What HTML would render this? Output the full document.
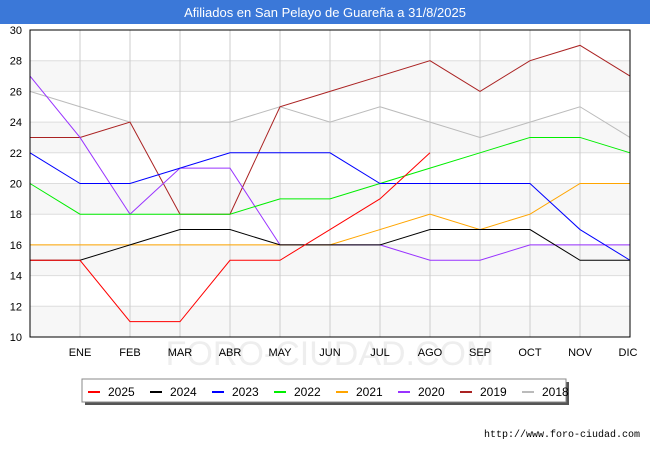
<!DOCTYPE html>
<html><head><meta charset="utf-8"><style>
body{margin:0;width:650px;height:450px;background:#fff;font-family:"Liberation Sans","DejaVu Sans",sans-serif;overflow:hidden}
</style></head><body>
<svg width="650" height="450" xmlns="http://www.w3.org/2000/svg">
<rect x="0" y="0" width="650" height="24" fill="#3b78d8"/>
<text x="325" y="17" text-anchor="middle" font-size="13" fill="#fff" font-family="Liberation Sans, sans-serif">Afiliados en San Pelayo de Guareña a 31/8/2025</text>
<g id="bands"></g><g id="grid"></g>
<text x="330" y="365" text-anchor="middle" font-size="34" fill="#eee" font-family="Liberation Sans, sans-serif">FORO-CIUDAD.COM</text>
<g id="series"></g>
<rect x="30" y="30" width="600" height="307" fill="none" stroke="#000" stroke-width="1"/>
<g id="axes" font-size="11" font-family="Liberation Sans, sans-serif"></g>
<rect x="85" y="382" width="484" height="23" fill="#555"/>
<rect x="82" y="379" width="484" height="23" fill="#fff" stroke="#888"/>
<g id="legend" font-size="12" font-family="Liberation Sans, sans-serif"></g>
<text x="640" y="437" text-anchor="end" font-size="10" fill="#000" font-family="Liberation Mono, monospace">http://www.foro-ciudad.com</text>
</svg>
<script>
const months=["","ENE","FEB","MAR","ABR","MAY","JUN","JUL","AGO","SEP","OCT","NOV","DIC"];
const yTicks=[10,12,14,16,18,20,22,24,26,28,30];
const seriesNames=["2025","2024","2023","2022","2021","2020","2019","2018"];
const seriesColors=["#ff0000","#000000","#0000ff","#00ee00","#ffa500","#9933ff","#aa2222","#bbbbbb"];
const s2025=[15,15,11,11,15,15,17,19,22];
const s2024=[15,15,16,17,17,16,16,16,17,17,17,15,15];
const s2023=[22,20,20,21,22,22,22,20,20,20,20,17,15];
const s2022=[20,18,18,18,18,19,19,20,21,22,23,23,22];
const s2021=[16,16,16,16,16,16,16,17,18,17,18,20,20];
const s2020=[27,23,18,21,21,16,16,16,15,15,16,16,16];
const s2019=[23,23,24,18,18,25,26,27,28,26,28,29,27];
const s2018=[26,25,24,24,24,25,24,25,24,23,24,25,23];
const allSeries=[s2025,s2024,s2023,s2022,s2021,s2020,s2019,s2018];
const NS="http://www.w3.org/2000/svg";
const X=i=>30+i*50, Y=v=>337-(v-10)*307/20;
function mk(t,a,p){const e=document.createElementNS(NS,t);for(const k in a)e.setAttribute(k,a[k]);p.appendChild(e);return e;}
const bands=document.getElementById('bands'),grid=document.getElementById('grid'),axes=document.getElementById('axes');
for(let v=10;v<30;v+=4){const r=mk('rect',{x:30,y:Y(v+2),width:600,height:Y(v)-Y(v+2),fill:'#f7f7f7'},bands);

}
yTicks.forEach(v=>{const l=mk('line',{x1:30,x2:630,y1:Y(v),y2:Y(v),stroke:'#ddd'},grid);


const t=mk('text',{x:22,y:Y(v)+4,'text-anchor':'end'},axes);t.textContent=v;

});
months.forEach((m,i)=>{if(i==0)return;const l=mk('line',{x1:X(i),x2:X(i),y1:30,y2:337,stroke:'#ccc'},grid);


const t=mk('text',{x:X(i)-(i==12?2:0),y:356,'text-anchor':'middle'},axes);t.textContent=m;

});
const sg=document.getElementById('series');
for(let k=allSeries.length-1;k>=0;k--){const d=allSeries[k];
const p=mk('polyline',{points:d.map((v,i)=>X(i)+','+Y(v)).join(' '),fill:'none',stroke:seriesColors[k],'stroke-width':1},sg);

}
const lg=document.getElementById('legend');
const lx=[88,150,212,274,336,398,460,522];
seriesNames.forEach((n,k)=>{const l=mk('line',{x1:lx[k],x2:lx[k]+12,y1:392,y2:392,stroke:seriesColors[k],'stroke-width':2},lg);


const t=mk('text',{x:lx[k]+20,y:396},lg);t.textContent=n;

});
</script>
</body></html>
